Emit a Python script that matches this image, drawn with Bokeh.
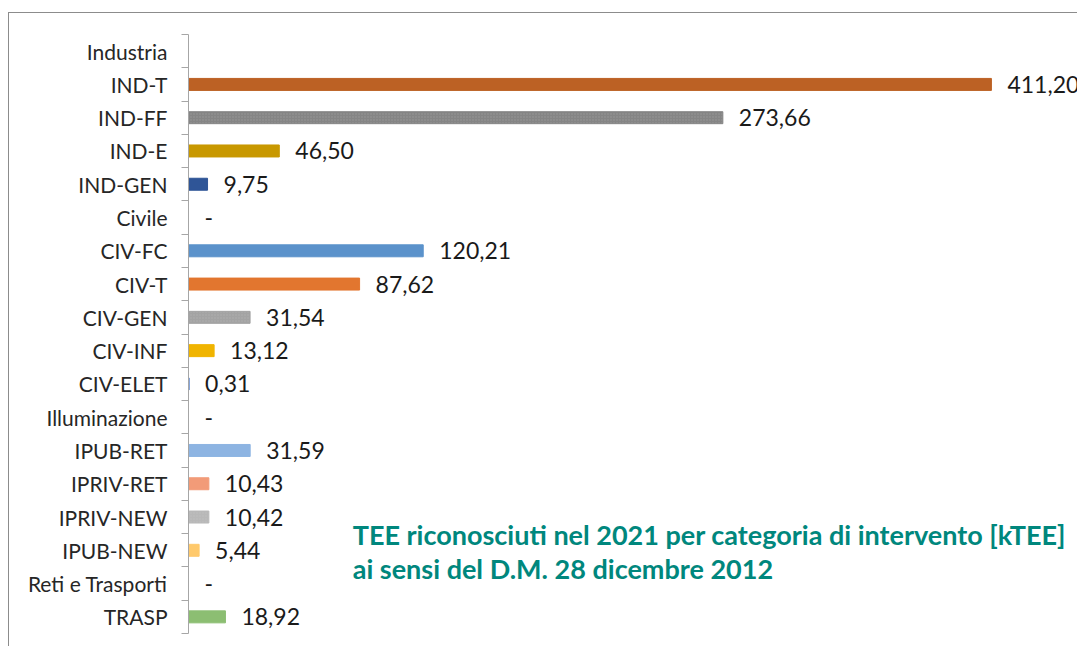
from bokeh.plotting import figure
from bokeh.models import Range1d, LinearAxis, FixedTicker, Label, ColumnDataSource
from bokeh.core.properties import value
from bokeh.embed import file_html
from bokeh.resources import INLINE

categories = ["Industria", "IND-T", "IND-FF", "IND-E", "IND-GEN",
              "Civile", "CIV-FC", "CIV-T", "CIV-GEN", "CIV-INF", "CIV-ELET",
              "Illuminazione", "IPUB-RET", "IPRIV-RET", "IPRIV-NEW", "IPUB-NEW",
              "Reti e Trasporti", "TRASP"]
# header rows have no value
values = [None, 411.20, 273.66, 46.50, 9.75,
          0.0, 120.21, 87.62, 31.54, 13.12, 0.31,
          0.0, 31.59, 10.43, 10.42, 5.44,
          0.0, 18.92]
colors = ["#ffffff", "#bc6124", "#858585", "#c89800", "#2f5597",
          "#ffffff", "#5b92cb", "#e2762f", "#a3a3a3", "#f0b400", "#4472c4",
          "#ffffff", "#8db4e2", "#f29b78", "#b8b8b8", "#ffc96b",
          "#ffffff", "#8cbe72"]
textured = ["IND-FF", "CIV-GEN", "IPRIV-NEW"]
title_lines = ["TEE riconosciuti  nel 2021 per categoria di intervento [kTEE]",
               "ai sensi del D.M. 28 dicembre 2012"]

n = len(categories)
pos = [n - 1 - i for i in range(n)]
bar_vals = [v if v is not None else 0.0 for v in values]
labels = ["" if v is None else ("-" if v == 0 else f"{v:.2f}".replace(".", ",")) for v in values]
hatch = ["dot" if c in textured else " " for c in categories]
line_alpha = [1.0 if v else 0.0 for v in values]

src = ColumnDataSource(dict(y=pos, right=bar_vals, color=colors, label=labels,
                            hatch=hatch, la=line_alpha))

FONT = "Lato"
p = figure(width=1069, height=634, output_backend="svg", toolbar_location=None,
           x_range=Range1d(0, 455.8), y_range=Range1d(-0.5, n - 0.5),
           x_axis_location=None, y_axis_location=None,
           min_border_left=179, min_border_right=0, min_border_top=21, min_border_bottom=14)
p.outline_line_color = None
p.xgrid.visible = False
p.ygrid.visible = False
p.styles = {"border-top": "1px solid #8c8c8c", "border-left": "1px solid #8c8c8c",
            "margin-top": "12px", "margin-left": "8px"}

ax = LinearAxis(ticker=FixedTicker(ticks=pos, minor_ticks=[k - 0.5 for k in range(n + 1)]))
ax.major_label_overrides = {pp: c for pp, c in zip(pos, categories)}
ax.major_tick_out = 0
ax.major_tick_in = 0
ax.minor_tick_out = 7
ax.minor_tick_in = 0
ax.minor_tick_line_color = "#a6a6a6"
ax.axis_line_color = "#a6a6a6"
ax.major_label_standoff = 14
ax.major_label_text_font = FONT
ax.major_label_text_font_size = "21px"
ax.major_label_text_color = "#262626"
p.add_layout(ax, "left")

p.hbar(y="y", left=0, right="right", height=0.36, fill_color="color",
       line_color="color", line_alpha="la", line_width=1,
       hatch_pattern="hatch", hatch_color="#d8d8d8", hatch_alpha=0.25, hatch_scale=3,
       source=src)

p.text(x="right", y="y", text="label", x_offset=16, text_baseline="middle",
       text_font=value(FONT), text_font_size="23px", text_color="#1a1a1a", source=src)

for line, yy in zip(title_lines, [2.47, 1.44]):
    p.add_layout(Label(x=84.1, y=yy, text=line, text_font=FONT, text_font_style="bold",
                       text_font_size="27px", text_color="#00877d", text_baseline="alphabetic"))

open("out.html", "w").write(file_html(p, INLINE))
